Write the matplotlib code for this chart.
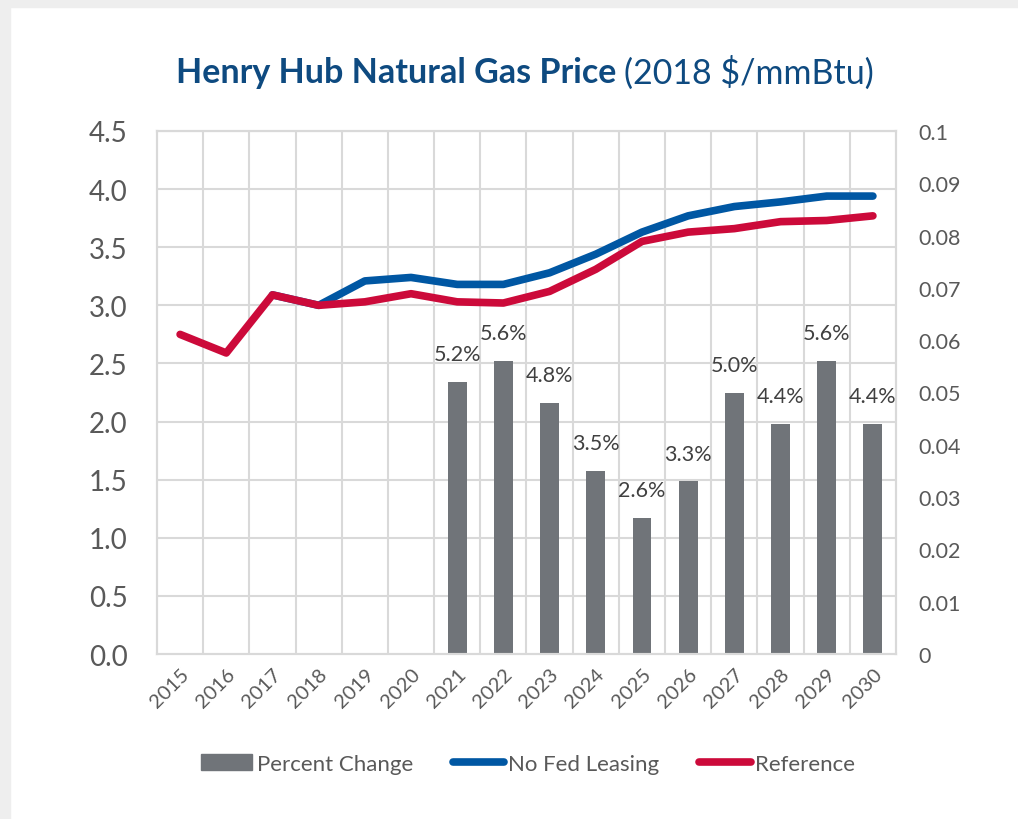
import numpy as np
import matplotlib
matplotlib.use("Agg")
import matplotlib.pyplot as plt
from matplotlib.lines import Line2D
from matplotlib.patches import Patch, Rectangle

plt.rcParams["font.family"] = ["Lato", "DejaVu Sans"]

years = [str(y) for y in range(2015, 2031)]
no_fed = [np.nan, np.nan, 3.09, 3.00, 3.21, 3.24, 3.18, 3.18, 3.28, 3.44, 3.63,
          3.77, 3.85, 3.89, 3.94, 3.94]
reference = [2.75, 2.59, 3.09, 3.00, 3.03, 3.10, 3.03, 3.02, 3.12, 3.31, 3.55,
             3.63, 3.66, 3.72, 3.73, 3.77]
pct_change = [np.nan] * 6 + [0.052, 0.056, 0.048, 0.035, 0.026, 0.033,
                             0.050, 0.044, 0.056, 0.044]
pct_labels = ["", "", "", "", "", "", "5.2%", "5.6%", "4.8%", "3.5%", "2.6%",
              "3.3%", "5.0%", "4.4%", "5.6%", "4.4%"]
left_ticks = ["0.0", "0.5", "1.0", "1.5", "2.0", "2.5", "3.0", "3.5", "4.0", "4.5"]
right_ticks = ["0", "0.01", "0.02", "0.03", "0.04", "0.05", "0.06", "0.07",
               "0.08", "0.09", "0.1"]

blue = "#0057A3"
red = "#CC0A3A"
gray = "#707479"
grid_c = "#D9D9D9"
text_c = "#595959"
title_c = "#0E4A80"

fig = plt.figure(figsize=(10.18, 8.2), dpi=100)
fig.patch.set_facecolor("white")
# light gray frame around the card
fig.patches.append(Rectangle((0, 0), 10 / 1018, 1, transform=fig.transFigure,
                             color="#EEEEEE", zorder=-10))
fig.patches.append(Rectangle((0, 1 - 8 / 820), 1, 8 / 820, transform=fig.transFigure,
                             color="#EEEEEE", zorder=-10))

ax = fig.add_axes([157 / 1018, 1 - 655 / 820, (896 - 157) / 1018, (655 - 132) / 820])
ax2 = ax.twinx()

x = np.arange(len(years))

# bars on the secondary axis
ax2.bar(x, pct_change, width=0.41, color=gray, zorder=2)
for xi, v, lab in zip(x, pct_change, pct_labels):
    if lab:
        ax2.annotate(lab, (xi, v), xytext=(0, 20), textcoords="offset points",
                     ha="center", va="center", fontsize=15.5, color="#404040")
ax2.set_ylim(0, 0.1)
ax2.set_yticks(np.linspace(0, 0.1, 11))
ax2.set_yticklabels(right_ticks)

# lines drawn above the bars
ax.set_zorder(ax2.get_zorder() + 1)
ax.patch.set_visible(False)
ax.plot(x, no_fed, color=blue, lw=5.5, solid_capstyle="round", solid_joinstyle="round", zorder=3)
ax.plot(x, reference, color=red, lw=5.5, solid_capstyle="round", solid_joinstyle="round", zorder=4)
ax.set_ylim(0, 4.5)
ax.set_yticks(np.linspace(0, 4.5, 10))
ax.set_yticklabels(left_ticks)
ax.set_xlim(-0.5, len(years) - 0.5)
ax.set_xticks(x)
ax.set_xticklabels(years, rotation=45, ha="right", rotation_mode="anchor")

# gridlines on the back axis
ax2.set_xlim(-0.5, len(years) - 0.5)
for yv in np.linspace(0.5, 4.5, 9):
    ax2.axhline(yv / 45, color=grid_c, lw=1.5, zorder=0)
for xv in np.arange(0.5, len(years) - 0.5, 1):
    ax2.axvline(xv, color=grid_c, lw=1.5, zorder=0)

for a in (ax, ax2):
    for s in a.spines.values():
        s.set_color(grid_c)
        s.set_linewidth(1.5)

ax.tick_params(axis="y", length=0, pad=21, labelsize=20, labelcolor=text_c)
ax.tick_params(axis="x", length=0, pad=8, labelsize=14.5, labelcolor=text_c)
ax2.tick_params(axis="y", length=0, pad=16, labelsize=15.5, labelcolor=text_c)

# title with bold and regular parts
fig.canvas.draw()
r = fig.canvas.get_renderer()
ty = 1 - 73 / 820
t1 = fig.text(0, ty, "Henry Hub Natural Gas Price ", fontsize=24.5, fontweight="bold",
              color=title_c, ha="left", va="center")
t2 = fig.text(0, ty, "(2018 $/mmBtu)", fontsize=24.5, color=title_c, ha="left", va="center")
w1 = t1.get_window_extent(r).width
w2 = t2.get_window_extent(r).width
x0 = 525 - (w1 + w2) / 2
t1.set_x(x0 / 1018)
t2.set_x((x0 + w1) / 1018)

handles = [Patch(color=gray), Line2D([], [], color=blue, lw=5.5, solid_capstyle="round"),
           Line2D([], [], color=red, lw=5.5, solid_capstyle="round")]
fig.legend(handles, ["Percent Change", "No Fed Leasing", "Reference"], ncol=3,
           loc="center", bbox_to_anchor=(528 / 1018, 1 - 765 / 820), frameon=False,
           fontsize=16, labelcolor=text_c, handlelength=2.3, handletextpad=0.2,
           columnspacing=1.8)

fig.savefig("out.png", dpi=100)
